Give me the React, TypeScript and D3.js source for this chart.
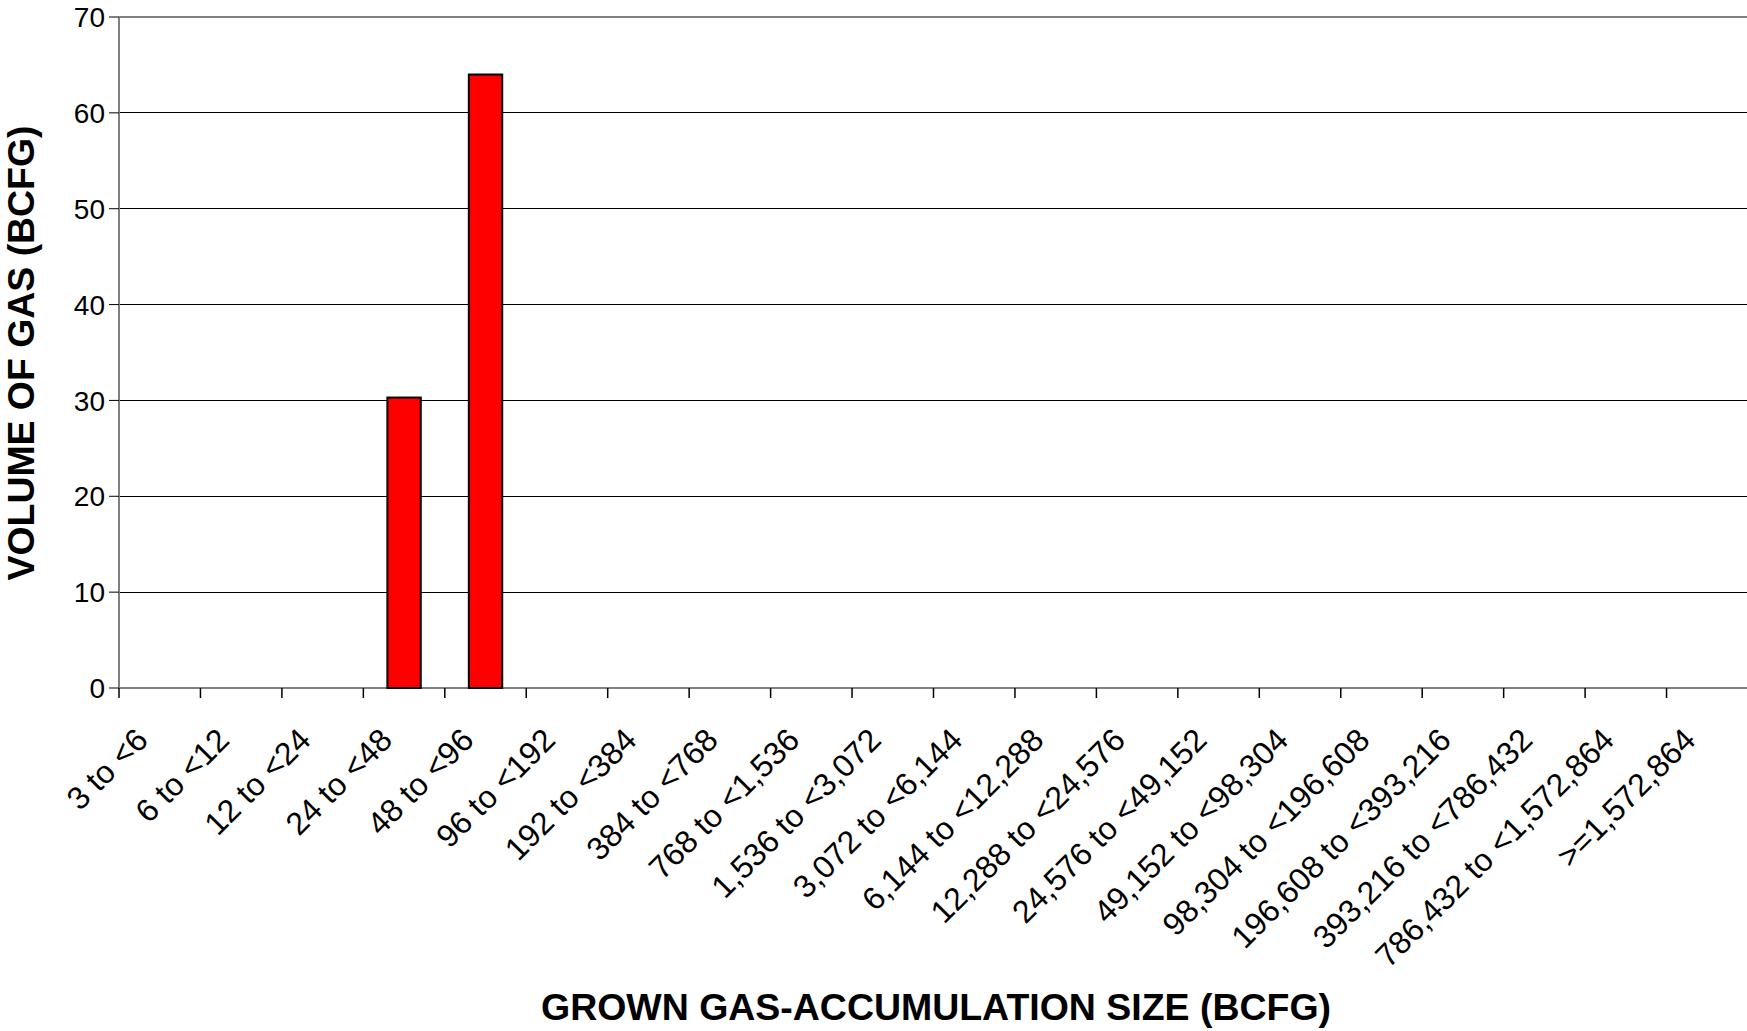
import React from 'react';
import * as d3 from 'd3';

const W = 1747;
const H = 1031;

// size classes (BCFG) and volume of gas in each
const sizeClasses = [
  '3 to <6', '6 to <12', '12 to <24', '24 to <48', '48 to <96', '96 to <192',
  '192 to <384', '384 to <768', '768 to <1,536', '1,536 to <3,072', '3,072 to <6,144',
  '6,144 to <12,288', '12,288 to <24,576', '24,576 to <49,152', '49,152 to <98,304',
  '98,304 to <196,608', '196,608 to <393,216', '393,216 to <786,432',
  '786,432 to <1,572,864', '>=1,572,864',
];
const gasVolumes = [0, 0, 0, 30.3, 64.0, 0, 0, 0, 0, 0, 0, 0, 0, 0, 0, 0, 0, 0, 0, 0];
const yTicks = [0, 10, 20, 30, 40, 50, 60, 70];

const margin = { top: 17, left: 119, bottom: H - 688 };

const App = () => {
  const plotRight = margin.left + sizeClasses.length * 81.45;
  const x = d3.scaleBand<string>().domain(sizeClasses).range([margin.left, plotRight]).padding(0);
  const y = d3.scaleLinear().domain([0, 70]).range([H - margin.bottom, margin.top]);
  const barW = x.bandwidth() * 0.41;
  const y0 = y(0);

  const font = 'Liberation Sans, Arial, sans-serif';

  return (
    <svg width={W} height={H} style={{ display: 'block', position: 'absolute', left: 0, top: 0 }}>
      <rect width={W} height={H} fill="#fff" />
      {/* gridlines */}
      {yTicks.map(t => (
        <line key={'g' + t} x1={margin.left} x2={W} y1={y(t)} y2={y(t)}
          stroke={t === 70 || t === 0 ? '#808080' : '#000'} strokeWidth={t === 70 || t === 0 ? 2 : 1}
          shapeRendering="crispEdges" />
      ))}
      {/* y axis */}
      <line x1={margin.left} x2={margin.left} y1={margin.top} y2={y0} stroke="#808080" strokeWidth={2} />
      {yTicks.map(t => (
        <g key={'y' + t}>
          <line x1={margin.left - 10} x2={margin.left} y1={y(t)} y2={y(t)} stroke="#000" strokeWidth={1} />
          <text x={margin.left - 14} y={y(t)} dy="0.36em" textAnchor="end" fontFamily={font} fontSize={28}>
            {t}
          </text>
        </g>
      ))}
      {/* x ticks at band boundaries */}
      {sizeClasses.map(c => (
        <line key={'xt' + c} x1={x(c)!} x2={x(c)!} y1={y0} y2={y0 + 10} stroke="#000" strokeWidth={1.5} />
      ))}
      {/* bars */}
      {sizeClasses.map((c, i) => gasVolumes[i] > 0 ? (
        <rect key={'b' + c} x={x(c)! + (x.bandwidth() - barW) / 2} y={y(gasVolumes[i])}
          width={barW} height={y0 - y(gasVolumes[i])} fill="#ff0000" stroke="#000" strokeWidth={2} />
      ) : null)}
      {/* x labels */}
      {sizeClasses.map(c => {
        const cx = x(c)! + x.bandwidth() / 2 - 10;
        const cy = y0 + 54;
        return (
          <text key={'xl' + c} transform={`translate(${cx},${cy}) rotate(-45)`} textAnchor="end"
            fontFamily={font} fontSize={32}>
            {c}
          </text>
        );
      })}
      {/* axis titles */}
      <text x={936} y={1020} textAnchor="middle" fontFamily={font} fontSize={37} fontWeight="bold"
        textLength={790} lengthAdjust="spacingAndGlyphs">
        GROWN GAS-ACCUMULATION SIZE (BCFG)
      </text>
      <text transform={`translate(34,353) rotate(-90)`} textAnchor="middle" fontFamily={font} fontSize={37}
        fontWeight="bold" textLength={455} lengthAdjust="spacingAndGlyphs">
        VOLUME OF GAS (BCFG)
      </text>
    </svg>
  );
};

export default App;
